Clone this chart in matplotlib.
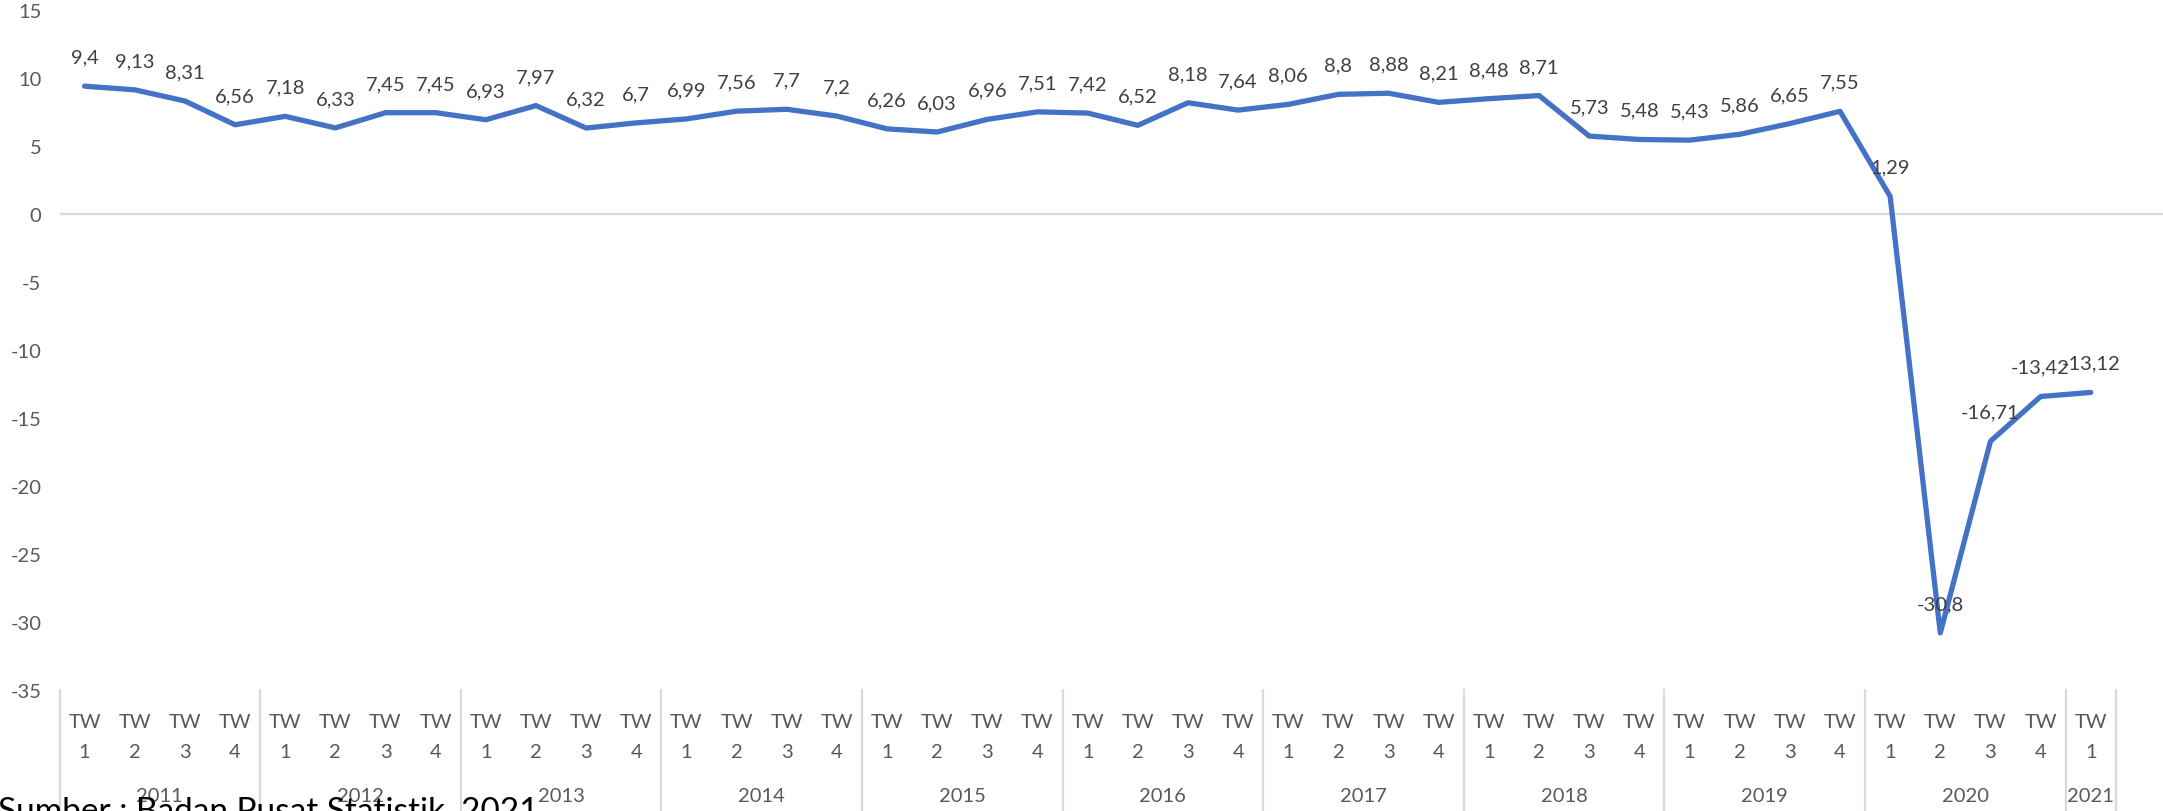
import matplotlib
matplotlib.use("Agg")
import matplotlib.pyplot as plt
import matplotlib.transforms as mtransforms

years = ["2011", "2012", "2013", "2014", "2015", "2016", "2017", "2018", "2019", "2020", "2021"]
quarters_per_year = [4, 4, 4, 4, 4, 4, 4, 4, 4, 4, 1]
quarter_labels = ["1", "2", "3", "4"]
values = [
    9.4, 9.13, 8.31, 6.56,
    7.18, 6.33, 7.45, 7.45,
    6.93, 7.97, 6.32, 6.7,
    6.99, 7.56, 7.7, 7.2,
    6.26, 6.03, 6.96, 7.51,
    7.42, 6.52, 8.18, 7.64,
    8.06, 8.8, 8.88, 8.21,
    8.48, 8.71, 5.73, 5.48,
    5.43, 5.86, 6.65, 7.55,
    1.29, -30.8, -16.71, -13.42,
    -13.12,
]
yticks = [15, 10, 5, 0, -5, -10, -15, -20, -25, -30, -35]
source_text = "Sumber : Badan Pusat Statistik, 2021"

FONT = ["Lato", "DejaVu Sans"]
plt.rcParams["font.family"] = FONT

W, H = 2163, 812
fig = plt.figure(figsize=(W / 100, H / 100), dpi=100)
left = 59.5 / W
top_px, bot_px = 11, 691
ax = fig.add_axes([left, 1 - bot_px / H, 1 - left, (bot_px - top_px) / H])

x = list(range(len(values)))
ax.plot(x, values, color="#4472C4", lw=3.8, solid_joinstyle="round", solid_capstyle="round", zorder=3)
ax.axhline(0, color="#D9D9D9", lw=1.6, zorder=1)

for xi, v in zip(x, values):
    lab = ("%g" % v).replace(".", ",")
    ax.annotate(lab, (xi, v), xytext=(0, 21), textcoords="offset points",
                ha="center", va="center", fontsize=14.5, color="#404040", zorder=4)

ax.set_xlim(-0.5, 41.44)
ax.set_ylim(-35, 15)
ax.set_yticks(yticks)
ax.set_yticklabels([str(t) for t in yticks])
ax.tick_params(axis="y", length=0, pad=13, labelsize=14.5, labelcolor="#595959")
ax.set_xticks([])
for s in ax.spines.values():
    s.set_visible(False)

trans = mtransforms.blended_transform_factory(ax.transData, ax.transAxes)
ax_h = bot_px - top_px
y_tw = -(723 - bot_px) / ax_h
y_num = -(752 - bot_px) / ax_h
y_year = -(797 - bot_px) / ax_h
y_end = -(H - bot_px + 2) / ax_h

pos = 0
boundaries = [-0.5]
for yr, nq in zip(years, quarters_per_year):
    for q in range(nq):
        ax.text(pos + q, y_tw, "TW", transform=trans, ha="center", va="center",
                fontsize=14.5, color="#595959", clip_on=False)
        ax.text(pos + q, y_num, quarter_labels[q], transform=trans, ha="center", va="center",
                fontsize=14.5, color="#595959", clip_on=False)
    ax.text(pos + (nq - 1) / 2, y_year, yr, transform=trans, ha="center", va="center",
            fontsize=14.5, color="#595959", clip_on=False)
    pos += nq
    boundaries.append(pos - 0.5)

for b in boundaries:
    ax.plot([b, b], [0, y_end], transform=trans, color="#D9D9D9", lw=1.6, clip_on=False)

fig.text(-2 / W, -9 / H, source_text, ha="left", va="baseline", fontsize=24, color="#000000")

fig.savefig("out.png", dpi=100)
